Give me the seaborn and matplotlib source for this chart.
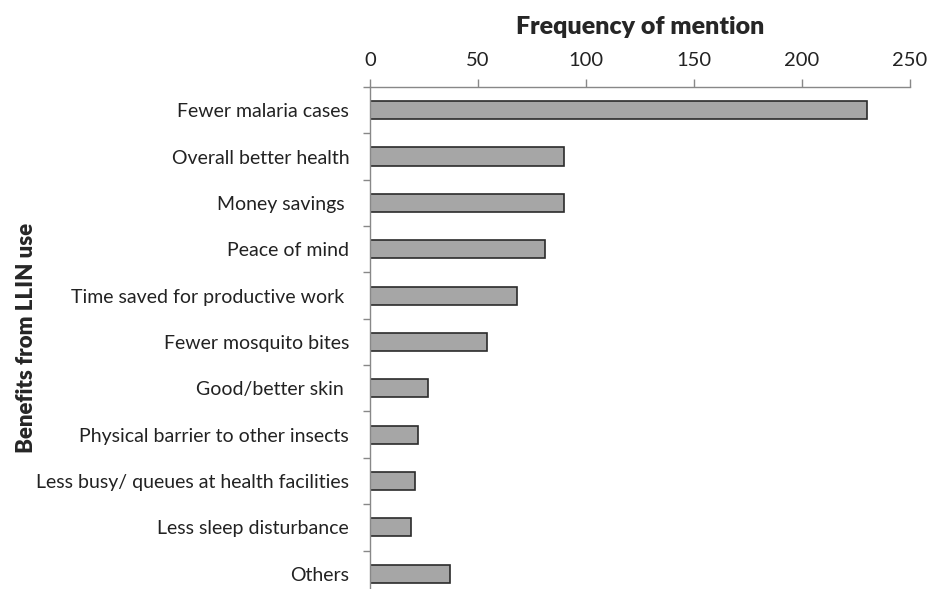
import numpy as np
import pandas as pd
import matplotlib
matplotlib.use('Agg')
import matplotlib.pyplot as plt
from matplotlib.ticker import FixedLocator
import seaborn as sns

# ── Data ──
benefits = ['Fewer malaria cases', 'Overall better health', 'Money savings ',
            'Peace of mind', 'Time saved for productive work ',
            'Fewer mosquito bites', 'Good/better skin ',
            'Physical barrier to other insects',
            'Less busy/ queues at health facilities',
            'Less sleep disturbance', 'Others']
mentions = [230, 90, 90, 81, 68, 54, 27, 22, 21, 19, 37]

df = pd.DataFrame({'benefit': benefits, 'mentions': mentions})

sns.set_theme(style='white')
plt.rcParams['font.family'] = ['Lato', 'DejaVu Sans']

fig = plt.figure(figsize=(9.28, 5.89), dpi=100)
ax = fig.add_axes([370/928, 0, 540/928, 1 - 87/589])

sns.barplot(data=df, x='mentions', y='benefit', orient='h', ax=ax,
            color='#a6a6a6', edgecolor='#2b2b2b', linewidth=1.2,
            width=0.39, saturation=1)

ax.set_xlim(0, 250)
ax.set_ylim(10.33, -0.5)
ax.xaxis.set_ticks_position('top')
ax.xaxis.set_label_position('top')
ax.set_xticks([0, 50, 100, 150, 200, 250])
ax.tick_params(axis='x', direction='out', length=6, width=1, color='#888888',
               labelsize=14.5, pad=7, labelcolor='#222222')

ax.yaxis.set_minor_locator(FixedLocator(np.arange(-0.5, 10.5, 1)))
ax.tick_params(axis='y', which='major', length=0, labelsize=14, pad=15,
               labelcolor='#222222')
ax.tick_params(axis='y', which='minor', length=5, width=1, color='#888888',
               left=True)

for s in ['right', 'bottom']:
    ax.spines[s].set_visible(False)
for s in ['top', 'left']:
    ax.spines[s].set_color('#888888')
    ax.spines[s].set_linewidth(1)

ax.set_xlabel('Frequency of mention', fontsize=18, fontweight='heavy',
              labelpad=13)
ax.set_ylabel('')
fig.text(27/928, 1 - 338/589, 'Benefits from LLIN use', rotation=90,
         fontsize=16, fontweight='heavy', ha='center', va='center')

plt.savefig('out.png', dpi=100)
